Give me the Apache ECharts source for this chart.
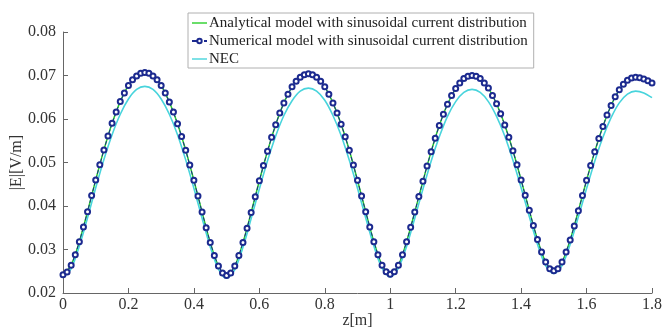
<!DOCTYPE html>
<html>
<head>
<meta charset="utf-8">
<script src="https://cdn.jsdelivr.net/npm/echarts@6/dist/echarts.min.js"></script>
<style>
  html, body { margin: 0; padding: 0; background: #fff; }
  #chart { width: 665px; height: 331px; }
</style>
</head>
<body>
<div id="chart"></div>
<script>
// sample spacing along z [m]
const numStep = 0.0125
const lineStep = 0.025

// numerical model (markers), every 0.0125 m
const numValues = [
  0.0242, 0.0248, 0.0264, 0.0288, 0.0318, 0.0352, 0.0387, 0.0424, 0.0460, 0.0495,
  0.0529, 0.0561, 0.0590, 0.0616, 0.0640, 0.0660, 0.0677, 0.0690, 0.0699, 0.0705,
  0.0707, 0.0705, 0.0699, 0.0690, 0.0677, 0.0660, 0.0639, 0.0616, 0.0589, 0.0560,
  0.0528, 0.0494, 0.0459, 0.0423, 0.0386, 0.0350, 0.0316, 0.0286, 0.0262, 0.0246,
  0.0240, 0.0246, 0.0262, 0.0286, 0.0316, 0.0349, 0.0385, 0.0421, 0.0458, 0.0493,
  0.0526, 0.0558, 0.0587, 0.0614, 0.0637, 0.0657, 0.0674, 0.0687, 0.0696, 0.0702,
  0.0704, 0.0702, 0.0696, 0.0687, 0.0674, 0.0657, 0.0637, 0.0614, 0.0588, 0.0559,
  0.0528, 0.0494, 0.0459, 0.0423, 0.0387, 0.0352, 0.0318, 0.0288, 0.0264, 0.0249,
  0.0243, 0.0249, 0.0264, 0.0288, 0.0318, 0.0351, 0.0386, 0.0422, 0.0457, 0.0492,
  0.0525, 0.0556, 0.0585, 0.0611, 0.0634, 0.0654, 0.0670, 0.0683, 0.0693, 0.0698,
  0.0700, 0.0698, 0.0693, 0.0683, 0.0671, 0.0654, 0.0635, 0.0612, 0.0586, 0.0558,
  0.0527, 0.0495, 0.0460, 0.0425, 0.0390, 0.0355, 0.0323, 0.0294, 0.0271, 0.0256,
  0.0251, 0.0256, 0.0271, 0.0294, 0.0322, 0.0354, 0.0389, 0.0424, 0.0459, 0.0493,
  0.0525, 0.0555, 0.0583, 0.0609, 0.0631, 0.0651, 0.0667, 0.0680, 0.0689, 0.0694,
  0.0696, 0.0695, 0.0692, 0.0688, 0.0683
]

// analytical model, every 0.025 m (lies under the markers)
const anaValues = [
  0.0242, 0.0264, 0.0318, 0.0387, 0.0460, 0.0529, 0.0590, 0.0640, 0.0677, 0.0699, 0.0707,
  0.0699, 0.0677, 0.0639, 0.0589, 0.0528, 0.0459, 0.0386, 0.0316, 0.0262, 0.0240,
  0.0262, 0.0316, 0.0385, 0.0458, 0.0526, 0.0587, 0.0637, 0.0674, 0.0696, 0.0704,
  0.0696, 0.0674, 0.0637, 0.0588, 0.0528, 0.0459, 0.0387, 0.0318, 0.0264, 0.0243,
  0.0264, 0.0318, 0.0386, 0.0457, 0.0525, 0.0585, 0.0634, 0.0670, 0.0693, 0.0700,
  0.0693, 0.0671, 0.0635, 0.0586, 0.0527, 0.0460, 0.0390, 0.0323, 0.0271, 0.0251,
  0.0271, 0.0322, 0.0389, 0.0459, 0.0525, 0.0583, 0.0631, 0.0667, 0.0689, 0.0696,
  0.0692, 0.0683
]

// NEC, every 0.025 m
const necValues = [
  0.0236, 0.0256, 0.0308, 0.0373, 0.0442, 0.0507, 0.0564, 0.0611, 0.0646, 0.0668, 0.0675,
  0.0668, 0.0646, 0.0611, 0.0564, 0.0506, 0.0441, 0.0372, 0.0306, 0.0255, 0.0234,
  0.0254, 0.0305, 0.0371, 0.0439, 0.0504, 0.0561, 0.0608, 0.0642, 0.0664, 0.0671,
  0.0664, 0.0643, 0.0608, 0.0562, 0.0505, 0.0441, 0.0373, 0.0308, 0.0257, 0.0237,
  0.0257, 0.0307, 0.0372, 0.0439, 0.0503, 0.0559, 0.0606, 0.0640, 0.0661, 0.0668,
  0.0661, 0.0640, 0.0606, 0.0561, 0.0505, 0.0442, 0.0376, 0.0312, 0.0263, 0.0245,
  0.0263, 0.0312, 0.0375, 0.0440, 0.0503, 0.0558, 0.0603, 0.0637, 0.0657, 0.0664,
  0.0660, 0.0649
]

const seriesNames = [
  'Analytical model with sinusoidal current distribution',
  'Numerical model with sinusoidal current distribution',
  'NEC'
]

// pair each value with its z position
function withZ(values, step) {
  return values.map((v, i) => [+(i * step).toFixed(4), v])
}

const font = 'Liberation Serif'
const lineIcon = 'path://M0,0H32V3H0Z' // plain line in the legend
const chart = echarts.init(document.getElementById('chart'), null, { renderer: 'canvas' })

const option = {
  backgroundColor: '#fff',
  animation: false,
  textStyle: { fontFamily: font },
  grid: { left: 63, right: 13, top: 32, bottom: 38, outerBoundsMode: 'none', containLabel: false },
  legend: {
    orient: 'vertical',
    left: 188,
    top: 13,
    itemWidth: 15,
    itemHeight: 5.5,
    itemGap: 0,
    padding: [1, 6, 0, 3],
    symbolKeepAspect: true,
    borderColor: '#b0b0b0',
    borderWidth: 1,
    backgroundColor: '#fff',
    textStyle: { fontFamily: font, fontSize: 15, lineHeight: 18, color: '#222', padding: [0, 0, 0, -3] },
    data: [
      { name: seriesNames[0], icon: lineIcon },
      { name: seriesNames[1] },
      { name: seriesNames[2], icon: lineIcon }
    ]
  },
  xAxis: {
    type: 'value',
    min: 0,
    max: 1.8,
    interval: 0.2,
    name: 'z[m]',
    nameLocation: 'middle',
    nameGap: 20,
    nameMoveOverlap: false,
    nameTextStyle: { fontFamily: font, fontSize: 16, color: '#333' },
    axisLine: { lineStyle: { color: '#666', width: 1 } },
    axisTick: { inside: true, length: 5, lineStyle: { color: '#666' } },
    axisLabel: { fontFamily: font, fontSize: 16, color: '#333', margin: 4 },
    splitLine: { show: false }
  },
  yAxis: {
    type: 'value',
    min: 0.02,
    max: 0.08,
    interval: 0.01,
    name: '|E|[V/m]',
    nameLocation: 'middle',
    nameGap: 38,
    nameMoveOverlap: false,
    nameTextStyle: { fontFamily: font, fontSize: 16, color: '#333' },
    axisLine: { show: true, lineStyle: { color: '#666', width: 1 } },
    axisTick: { show: true, inside: true, length: 5, lineStyle: { color: '#666' } },
    axisLabel: {
      fontFamily: font, fontSize: 16, color: '#333', margin: 7,
      formatter: v => v.toFixed(2)
    },
    splitLine: { show: false }
  },
  series: [
    {
      name: seriesNames[0],
      type: 'line',
      data: withZ(anaValues, lineStep),
      smooth: 0.3,
      symbol: 'none',
      color: '#2bd02b',
      lineStyle: { width: 1.5, color: '#2bd02b' },
      z: 2
    },
    {
      name: seriesNames[1],
      type: 'line',
      data: withZ(numValues, numStep),
      symbol: 'emptyCircle',
      symbolSize: 5,
      color: '#1c2a8f',
      itemStyle: { color: '#1c2a8f', borderWidth: 1.2 },
      lineStyle: { width: 1, type: 'dashed', color: '#1c2a8f' },
      z: 4
    },
    {
      name: seriesNames[2],
      type: 'line',
      data: withZ(necValues, lineStep),
      smooth: 0.3,
      symbol: 'none',
      color: '#48d4dc',
      lineStyle: { width: 1.6, color: '#48d4dc' },
      z: 3
    }
  ]
}

chart.setOption(option)
</script>
</body>
</html>
